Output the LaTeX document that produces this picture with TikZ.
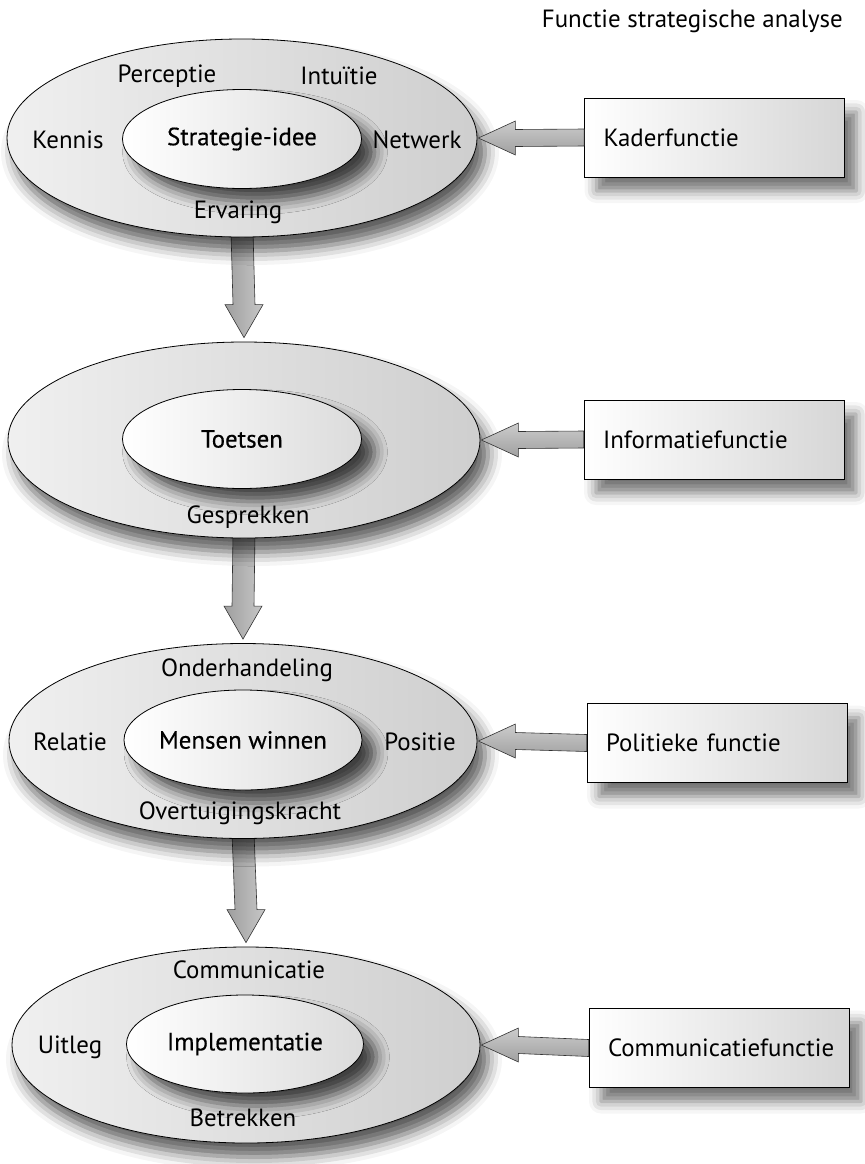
\documentclass[tikz,border=0pt]{standalone}
\usepackage{fontspec}
\setmainfont{PT Sans}
\newfontfamily\semib[FakeBold=0.4]{PT Sans}
\usetikzlibrary{shapes.geometric,shadows.blur,calc}
\pgfdeclarelayer{bg}
\pgfsetlayers{bg,main}
\begin{document}
\begin{tikzpicture}[x=1bp,y=-1bp,
  lbl/.style={font=\fontsize{25}{29}\selectfont, inner sep=0pt, anchor=center},
  outerell/.style={ellipse, draw=black, line width=0.8bp, inner sep=0pt,
    left color=gray!12, right color=gray!38,
    blur shadow={shadow xshift=8bp, shadow yshift=-14bp, shadow blur radius=14bp, shadow opacity=65}},
  innerell/.style={ellipse, draw=black, line width=0.8bp, inner sep=0pt,
    font=\semib\fontsize{25}{29}\selectfont,
    left color=white, right color=gray!28,
    blur shadow={shadow xshift=13bp, shadow yshift=-13bp, shadow blur radius=13bp, shadow opacity=70}},
  fbox/.style={draw=black, line width=0.8bp, minimum height=79bp, text width=222bp,
    inner xsep=19bp, inner ysep=0pt, align=left, font=\fontsize{25}{29}\selectfont,
    left color=white, right color=gray!32,
    blur shadow={shadow xshift=12bp, shadow yshift=-14bp, shadow blur radius=12bp, shadow opacity=55}},
  farrow/.style={draw=black!80, line width=0.6bp, top color=gray!40, bottom color=gray!75, line join=miter},
  fdarrow/.style={draw=black!80, line width=0.6bp, left color=gray!75, right color=gray!45, line join=miter}
]
\useasboundingbox (0,0) rectangle (865,1164);

% title
\node[lbl, anchor=east] (title) at (843,21) {Functie strategische analyse};

% row 1
\node[outerell, minimum width=470bp, minimum height=198bp] (o1) at (242,138) {};
\node[innerell, minimum width=239bp, minimum height=99bp] (i1) at (242,139) {Strategie-idee};
\node[lbl] (perceptie) at (167,76) {Perceptie};
\node[lbl] (intuitie) at (339,76) {Intuïtie};
\node[lbl] (kennis) at (68,140) {Kennis};
\node[lbl] (netwerk) at (417,140) {Netwerk};
\node[lbl] (ervaring) at (238,212) {Ervaring};
\node[fbox] (b1) at (714.5,137.5) {Kaderfunctie};

% row 2
\node[outerell, minimum width=472bp, minimum height=196bp] (o2) at (244,440) {};
\node[innerell, minimum width=239bp, minimum height=99bp] (i2) at (242,439) {Toetsen};
\node[lbl] (gesprekken) at (248,517) {Gesprekken};
\node[fbox] (b2) at (714,439.5) {Informatiefunctie};

% row 3
\node[outerell, minimum width=468bp, minimum height=195bp] (o3) at (243,741) {};
\node[innerell, minimum width=238bp, minimum height=100bp] (i3) at (243,740) {Mensen winnen};
\node[lbl] (onderh) at (247,670) {Onderhandeling};
\node[lbl] (relatie) at (70,742) {Relatie};
\node[lbl] (positie) at (420,742) {Positie};
\node[lbl] (overt) at (240,813) {Overtuigingskracht};
\node[fbox] (b3) at (717,743) {Politieke functie};

% row 4
\node[outerell, minimum width=468bp, minimum height=196bp] (o4) at (246,1045) {};
\node[innerell, minimum width=237bp, minimum height=98bp] (i4) at (245,1044) {Implementatie};
\node[lbl] (comm) at (249,970) {Communicatie};
\node[lbl] (uitleg) at (70,1047) {Uitleg};
\node[lbl] (betrekken) at (243,1118) {Betrekken};
\node[fbox] (b4) at (719,1048) {Communicatiefunctie};

\begin{pgfonlayer}{bg}
% down arrows
\foreach \a/\b in {o1/o2,o2/o3,o3/o4}{
  \draw[fdarrow] ($(\a.south)+(-11,-6)$) -- ($(\b.north)+(-11,-37)$) -- ($(\b.north)+(-19,-37)$)
    -- ($(\b.north)+(0,-4)$) -- ($(\b.north)+(19,-37)$) -- ($(\b.north)+(11,-37)$)
    -- ($(\a.south)+(11,-6)$) -- cycle;
}
\end{pgfonlayer}
% horizontal arrows
\foreach \bx/\ox in {b1/o1,b2/o2,b3/o3,b4/o4}{
  \draw[farrow] ($(\bx.west)+(0,-8.5)$) -- ($(\ox.east)+(38,-8.5)$) -- ($(\ox.east)+(38,-17)$)
    -- ($(\ox.east)+(1,0)$) -- ($(\ox.east)+(38,17)$) -- ($(\ox.east)+(38,8.5)$)
    -- ($(\bx.west)+(0,8.5)$) -- cycle;
}
\end{tikzpicture}
\end{document}
